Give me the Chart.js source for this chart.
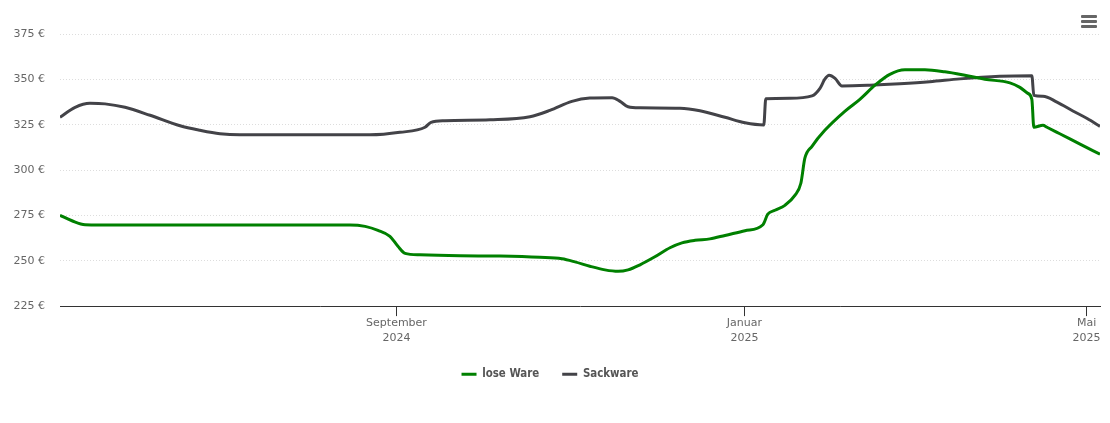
<!DOCTYPE html>
<html lang="de"><head><meta charset="utf-8">
<style>html,body{margin:0;padding:0;background:#fff}#w{position:relative;width:1110px;height:423px}
#m{position:absolute;left:1081px;top:15px;width:16px}#m i{display:block;height:3px;background:#666;margin-bottom:2px;border-radius:1px}</style>
<script src="https://cdn.jsdelivr.net/npm/chart.js@4"></script></head>
<body><div id="w"><canvas id="c" width="1110" height="423"></canvas><div id="m"><i></i><i></i><i></i></div></div>
<script>
const seriesNames=["lose Ware","Sackware"];
const yTicks=[225,250,275,300,325,350,375];
const xTickDays=[0,122,242];
const xTickLabels=[["September","2024"],["Januar","2025"],["Mai","2025"]];
// x = days since 1 September 2024
const loseDays=[-118,-113.8,-109.2,-104,-16.3,-11,-6.5,-2.3,0.5,3,8.2,22.3,36.3,50.3,58,62.6,67.8,73.1,77.7,81.2,85.4,90.6,95.9,100.1,104.7,109.9,115.2,122.2,128.5,130.2,132.7,136.2,139.7,141.8,143.2,145.7,150.2,157.2,162.5,167.8,173,178.3,185.3,192.3,199.3,206.3,215.1,218.6,221.4,222.8,223.5,226.7,228.1,232.6,239.7,246.7];
const loseVals=[275.1,272.1,269.9,269.8,269.8,269,266.8,263.5,258,254.1,253.3,252.8,252.6,251.9,251.1,249.4,247,245,244.2,245,247.8,252.2,257.2,259.9,261.3,262.1,264,266.6,269.9,275.7,277.9,280.6,286.1,292.8,306.6,313.2,322,332.5,339.1,346.9,352.9,355.4,355.4,354.3,352.4,350.2,348.2,345.7,342.4,339.1,323.7,324.8,323.7,320.1,314.4,308.8];
const sackDays=[-118,-112.7,-107.5,-102.2,-95.2,-86.4,-75.9,-68.9,-61.9,-54.9,-9.3,1.2,10,12.1,17,32.8,46.8,53.8,61.5,67.8,75.6,78.4,81.2,85.4,99.4,106.4,115.2,122.2,128.8,129.5,138,145.7,148.5,150.2,151.7,153.8,156.2,166,176.5,187,197.6,211.6,222.8,223.5,226.7,231.6,237.2,242.2,246.7];
const sackVals=[329.2,334.7,336.9,336.6,334.7,330.3,324.5,322,320.1,319.5,319.5,320.9,323.7,326.4,327.3,327.8,329.5,333,338,339.8,340,338,335,334.4,334.2,332.8,329.2,326.2,325,339.4,339.7,341,345.2,350.2,352.4,350.7,346.5,346.9,347.7,348.8,350.4,351.8,352.1,341.3,340.8,337.6,332.7,328.5,324.2];
const pts=(xs,ys)=>xs.map((x,i)=>({x,y:ys[i]}));
const F="'DejaVu Sans'";
new Chart(document.getElementById('c'),{type:'line',
 data:{datasets:[
  {label:seriesNames[0],data:pts(loseDays,loseVals),borderColor:'#008000',backgroundColor:'#008000'},
  {label:seriesNames[1],data:pts(sackDays,sackVals),borderColor:'#434348',backgroundColor:'#434348'}]},
 options:{responsive:false,animation:false,
  layout:{padding:{left:0,right:10,top:34.3,bottom:33}},
  elements:{point:{radius:0},line:{borderWidth:3,cubicInterpolationMode:'monotone'}},
  plugins:{tooltip:{enabled:false},legend:{position:'bottom',labels:{boxWidth:15,boxHeight:3,color:'#555',padding:23,font:{family:"'DejaVu Sans Condensed',"+F,size:11.4,weight:'bold'},
    generateLabels(ch){return ch.data.datasets.map((d,i)=>({text:d.label,fillStyle:d.borderColor,strokeStyle:d.borderColor,lineWidth:0,fontColor:'#555',datasetIndex:i,hidden:false}));}}}},
  scales:{
   x:{type:'linear',min:-118,max:246.7,
    afterBuildTicks(a){a.ticks=xTickDays.map(v=>({value:v}));},
    afterFit(a){a.height=39.5;},
    ticks:{autoSkip:false,maxRotation:0,color:'#666',padding:-0.5,font:{family:F,size:11,lineHeight:1.36},callback(v){return xTickLabels[xTickDays.indexOf(v)];}},
    grid:{display:true,drawOnChartArea:false,drawTicks:true,tickLength:10,tickColor:'#333',tickWidth:1},
    border:{color:'#333',width:1}},
   y:{min:225,max:375,afterBuildTicks(a){a.ticks=yTicks.map(v=>({value:v}));},
    afterFit(a){a.width=60;},
    ticks:{color:'#666',padding:15,font:{family:F,size:11},callback:v=>v+' €'},
    grid:{color:'#ddd',drawTicks:false,lineWidth:1},
    border:{display:false,dash:[1,2]}}
  }}});
</script></body></html>
